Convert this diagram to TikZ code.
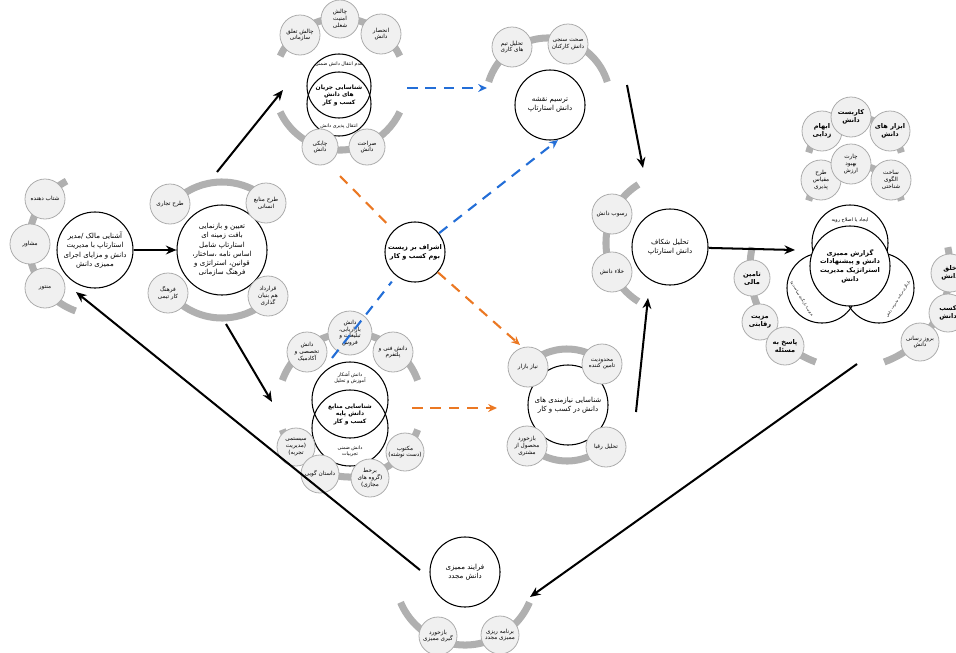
\documentclass[tikz,border=0pt]{standalone}
\usepackage{fontspec}
\newfontfamily\arabicfont[Script=Arabic]{DejaVu Sans}
\TeXXeTstate=1
\usetikzlibrary{arrows.meta}
\usetikzlibrary{positioning}
\definecolor{linkblue}{RGB}{35,110,215}
\definecolor{linkorange}{RGB}{235,120,35}
\newcommand{\fa}[1]{\beginR #1\endR}
\newcommand{\bandarc}[4]{\draw[band] (#1) ++(#2:#4) arc[start angle=#2, end angle=#3, radius=#4];}
\tikzset{
	band/.style={draw=gray!62, line width=8pt},
	hub/.style={circle, draw, line width=1.2pt, fill=white, inner sep=0pt, align=center, font=\arabicfont\fontsize{8}{10.5}\selectfont},
	hubbold/.style={hub, font=\arabicfont\bfseries\fontsize{7.5}{10}\selectfont},
	ring/.style={circle, draw, line width=1.2pt, inner sep=0pt},
	vtext/.style={align=center, inner sep=0pt, font=\arabicfont\fontsize{5.5}{7}\selectfont},
	vbold/.style={align=center, inner sep=0pt, font=\arabicfont\bfseries\fontsize{6.8}{8.5}\selectfont},
	leaf/.style={circle, draw=gray!65, fill=gray!12, line width=0.9pt, minimum size=1.6cm, inner sep=0pt, align=center, font=\arabicfont\fontsize{6.5}{7.8}\selectfont},
	leafbold/.style={leaf, font=\arabicfont\bfseries\fontsize{7.5}{9}\selectfont},
	flow/.style={line width=2.3pt, -{Stealth[length=12pt, width=10pt]}},
	bluedash/.style={draw=linkblue, line width=2.4pt, dash pattern=on 12pt off 9pt},
	orangedash/.style={draw=linkorange, line width=2.4pt, dash pattern=on 12pt off 9pt},
	tip/.style={-{Stealth[length=10pt, width=9pt]}}
}

\begin{document}
\begin{tikzpicture}[x=0.04cm, y=-0.04cm]

	\useasboundingbox (0,0) rectangle (956,653);

	\bandarc{100,244}{118}{250}{2.85cm}
	\bandarc{222,250}{42}{138}{2.72cm}
	\bandarc{222,250}{222}{318}{2.72cm}
	\bandarc{340,84}{155}{25}{2.64cm}
	\bandarc{340,84}{205}{335}{2.64cm}
	\bandarc{548,100}{163}{17}{2.48cm}
	\bandarc{350,405}{160}{20}{2.88cm}
	\bandarc{350,405}{200}{340}{2.88cm}
	\bandarc{567,405}{42}{138}{2.24cm}
	\bandarc{567,405}{222}{318}{2.24cm}
	\bandarc{675,243}{122}{238}{2.76cm}
	\bandarc{855,165}{165}{15}{1.92cm}
	\bandarc{855,213}{165}{15}{1.92cm}
	\bandarc{850,268}{168}{250}{4cm}
	\bandarc{850,268}{12}{-70}{4cm}
	\bandarc{465,575}{203}{337}{2.8cm}

	\node[hub, minimum size=3.04cm] (owner) at (95,250) {\fa{آشنایی مالک /مدیر}\\\fa{استارتاپ با مدیریت}\\\fa{دانش و مزایای اجرای}\\\fa{ممیزی دانش}};
	\node[leaf] (accel) at (45,199) {\fa{شتاب دهنده}};
	\node[leaf] (advisor) at (30,244) {\fa{مشاور}};
	\node[leaf] (mentor) at (45,288) {\fa{منتور}};

	\node[hub, minimum size=3.6cm] (context) at (222,250) {\fa{تعیین و بازنمایی}\\\fa{بافت زمینه ای}\\\fa{استارتاپ شامل}\\\fa{اساس نامه ،ساختار،}\\\fa{قوانین، استراتژی و}\\\fa{فرهنگ سازمانی}};
	\node[leaf] (bizplan) at (170,204) {\fa{طرح تجاری}};
	\node[leaf] (hrplan) at (266,203) {\fa{طرح منابع}\\\fa{انسانی}};
	\node[leaf] (teamwork) at (168,293) {\fa{فرهنگ}\\\fa{کار تیمی}};
	\node[leaf] (founders) at (268,296) {\fa{قرارداد}\\\fa{هم بنیان}\\\fa{گذاری}};

	\node[ring, minimum size=2.56cm] (flowup) at (339,86) {};
	\node[ring, minimum size=2.56cm] (flowdown) at (339,104) {};
	\node[vtext] (tacit) at (339,64) {\fa{عدم انتقال دانش ضمنی}};
	\node[vbold] (flows) at (339,95) {\fa{شناسایی جریان}\\\fa{های دانش}\\\fa{کسب و کار}};
	\node[vtext] (transfer) at (339,126) {\fa{انتقال پذیری دانش}};
	\node[leaf] (belong) at (300,35) {\fa{چالش تعلق}\\\fa{سازمانی}};
	\node[leaf, minimum size=1.52cm] (jobsec) at (340,19) {\fa{چالش}\\\fa{امنیت}\\\fa{شغلی}};
	\node[leaf] (monopoly) at (381,34) {\fa{انحصار}\\\fa{دانش}};
	\node[leaf, minimum size=1.44cm] (agility) at (320,147) {\fa{چابکی}\\\fa{دانش}};
	\node[leaf, minimum size=1.44cm] (explicit) at (367,147) {\fa{صراحت}\\\fa{دانش}};

	\node[hub, minimum size=2.8cm] (map) at (550,105) {\fa{ترسیم نقشه}\\\fa{دانش استارتاپ}};
	\node[leaf] (teams) at (512,47) {\fa{تحلیل تیم}\\\fa{های کاری}};
	\node[leaf] (verify) at (568,44) {\fa{صحت سنجی}\\\fa{دانش کارکنان}};

	\node[hubbold, minimum size=2.4cm] (ecosys) at (415,252) {\fa{اشراف بر زیست}\\\fa{بوم کسب و کار}};

	\node[ring, minimum size=3.04cm] (srcup) at (350,400) {};
	\node[ring, minimum size=3.04cm] (srcdown) at (350,428) {};
	\node[vtext] (explicitk) at (350,378) {\fa{دانش آشکار}\\\fa{آموزش و تحلیل}};
	\node[vbold] (sources) at (350,414) {\fa{شناسایی منابع}\\\fa{دانش پایه}\\\fa{کسب و کار}};
	\node[vtext] (tacitk) at (350,451) {\fa{دانش ضمنی}\\\fa{تجربیات}};
	\node[leaf] (academic) at (307,352) {\fa{دانش}\\\fa{تخصصی و}\\\fa{آکادمیک}};
	\node[leaf, minimum size=1.76cm] (marketing) at (350,333) {\fa{دانش}\\\fa{بازاریابی،}\\\fa{تبلیغات و}\\\fa{فروش}};
	\node[leaf] (technical) at (393,352) {\fa{دانش فنی و}\\\fa{پلتفرم}};
	\node[leaf, minimum size=1.52cm] (systemic) at (296,447) {\fa{سیستمی}\\\fa{(مدیریت}\\\fa{تجربه)}};
	\node[leaf, minimum size=1.52cm] (story) at (320,474) {\fa{داستان گویی}};
	\node[leaf, minimum size=1.52cm] (online) at (370,478) {\fa{برخط}\\\fa{(گروه های}\\\fa{مجازی)}};
	\node[leaf, minimum size=1.52cm] (written) at (405,452) {\fa{مکتوب}\\\fa{(دست نوشته)}};

	\node[hub, minimum size=3.2cm] (needs) at (568,405) {\fa{شناسایی نیازمندی های}\\\fa{دانش در کسب و کار}};
	\node[leaf] (market) at (528,367) {\fa{نیاز بازار}};
	\node[leaf] (supplier) at (602,364) {\fa{محدودیت}\\\fa{تامین کننده}};
	\node[leaf] (feedback) at (527,446) {\fa{بازخورد}\\\fa{محصول از}\\\fa{مشتری}};
	\node[leaf] (rivals) at (606,447) {\fa{تحلیل رقبا}};

	\node[hub, minimum size=3.04cm] (gap) at (670,247) {\fa{تحلیل شکاف}\\\fa{دانش استارتاپ}};
	\node[leaf] (sediment) at (612,214) {\fa{رسوب دانش}};
	\node[leaf] (void) at (612,272) {\fa{خلاء دانش}};

	\node[leafbold] (clarify) at (822,131) {\fa{ابهام}\\\fa{زدایی}};
	\node[leafbold] (apply) at (851,117) {\fa{کاربست}\\\fa{دانش}};
	\node[leafbold] (tools) at (890,131) {\fa{ابزار های}\\\fa{دانش}};
	\node[leaf] (scaling) at (821,180) {\fa{طرح}\\\fa{مقیاس}\\\fa{پذیری}};
	\node[leaf] (valuechart) at (851,164) {\fa{چارت}\\\fa{بهبود}\\\fa{ارزش}};
	\node[leaf] (cognitive) at (891,180) {\fa{ساخت}\\\fa{الگوی}\\\fa{شناختی}};

	\node[ring, minimum size=3.04cm] (ventop) at (850,243) {};
	\node[ring, minimum size=2.8cm] (venleft) at (822,288) {};
	\node[ring, minimum size=2.8cm] (venright) at (879,288) {};
	\node[hubbold, minimum size=3.2cm] (report) at (850,266) {\fa{گزارش ممیزی}\\\fa{دانش و پیشنهادات}\\\fa{استراتژیک مدیریت}\\\fa{دانش}};
	\node[vtext] (routine) at (850,220) {\fa{ایجاد یا اصلاح رویه}};
	\node[vtext, rotate=-58, font=\arabicfont\fontsize{4}{5}\selectfont] (policy) at (802,299) {\fa{تدوین یا بازنگری سیاست ها}};
	\node[vtext, rotate=58, font=\arabicfont\fontsize{4}{5}\selectfont] (program) at (898,299) {\fa{بازنگری برنامه مدیریت دانش}};
	\node[leafbold, minimum size=1.44cm] (funding) at (752,278) {\fa{تامین}\\\fa{مالی}};
	\node[leafbold, minimum size=1.44cm] (advantage) at (760,322) {\fa{مزیت}\\\fa{رقابتی}};
	\node[leafbold, minimum size=1.52cm] (answer) at (785,346) {\fa{پاسخ به}\\\fa{مسئله}};
	\node[leafbold, minimum size=1.52cm] (creation) at (950,273) {\fa{خلق}\\\fa{دانش}};
	\node[leafbold, minimum size=1.52cm] (acquire) at (948,313) {\fa{کسب}\\\fa{دانش}};
	\node[leaf, minimum size=1.52cm] (update) at (920,342) {\fa{بروز رسانی}\\\fa{دانش}};

	\node[hub, minimum size=2.8cm] (reaudit) at (465,572) {\fa{فرایند ممیزی}\\\fa{دانش مجدد}};
	\node[leaf, minimum size=1.52cm] (auditfb) at (438,636) {\fa{بازخورد}\\\fa{گیری ممیزی}};
	\node[leaf, minimum size=1.52cm] (replan) at (500,635) {\fa{برنامه ریزی}\\\fa{ممیزی مجدد}};

	\coordinate (context-up) at (217,172);
	\coordinate (flows-in) at (283,90);
	\coordinate (context-down) at (226,324);
	\coordinate (sources-in) at (272,402);
	\coordinate (map-out) at (627,85);
	\coordinate (gap-top) at (643,168);
	\coordinate (needs-out) at (636,412);
	\coordinate (gap-bottom) at (648,298);
	\coordinate (report-in) at (795,250);
	\coordinate (report-out) at (857,364);
	\coordinate (reaudit-in) at (530,597);
	\coordinate (reaudit-out) at (420,570);
	\coordinate (owner-in) at (76,292);
	\coordinate (flows-right) at (407,88);
	\coordinate (map-left) at (487,88);
	\coordinate (map-in) at (558,140);
	\coordinate (sources-up) at (332,358);
	\coordinate (flows-down) at (340,176);
	\coordinate (needs-in) at (520,345);
	\coordinate (sources-right) at (412,408);
	\coordinate (needs-left) at (497,408);

	\draw[flow] (owner) -- (context);
	\draw[flow] (context-up) -- (flows-in);
	\draw[flow] (context-down) -- (sources-in);
	\draw[flow] (map-out) -- (gap-top);
	\draw[flow] (needs-out) -- (gap-bottom);
	\draw[flow] (gap) -- (report-in);
	\draw[flow] (report-out) -- (reaudit-in);
	\draw[flow] (reaudit-out) -- (owner-in);

	\draw[bluedash, tip] (flows-right) -- (map-left);
	\draw[bluedash, tip] (ecosys) -- (map-in);
	\draw[bluedash, shorten >=8pt] (sources-up) -- (ecosys);
	\draw[orangedash, shorten >=8pt] (flows-down) -- (ecosys);
	\draw[orangedash, tip] (ecosys) -- (needs-in);
	\draw[orangedash, tip] (sources-right) -- (needs-left);

\end{tikzpicture}
\end{document}
